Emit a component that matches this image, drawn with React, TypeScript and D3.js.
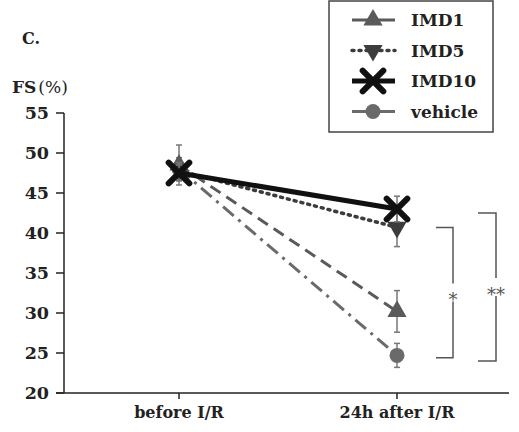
import * as d3 from 'd3';
import { useEffect, useRef } from 'react';

const categories = ['before I/R', '24h after I/R'];
const seriesNames = ['IMD1', 'IMD5', 'IMD10', 'vehicle'];
const imd1 = [48.5, 30.2];
const imd1Err = [2.5, 2.6];
const imd5 = [47.8, 40.7];
const imd5Err = [1.0, 2.4];
const imd10 = [47.5, 43.0];
const imd10Err = [1.0, 1.6];
const vehicle = [48.0, 24.7];
const vehicleErr = [1.4, 1.5];
const yTicks = [20, 25, 30, 35, 40, 45, 50, 55];

const serif = '"DejaVu Serif", serif';

function App() {
  const svgRef = useRef<SVGSVGElement>(null);

  useEffect(() => {
    const svg = d3.select(svgRef.current);
    svg.selectAll('*').remove();

    const width = 519;
    const height = 432;
    const margin = { top: 113, right: 10, bottom: 39, left: 64 };

    const x = d3.scalePoint<string>()
      .domain(categories)
      .range([179, 397]);
    const y = d3.scaleLinear()
      .domain([20, 55])
      .range([height - margin.bottom, margin.top]);

    const styles: Record<string, any> = {
      IMD1: { values: imd1, err: imd1Err, color: '#5a5a5a', width: 3, dash: '12,7', marker: 'up' },
      IMD5: { values: imd5, err: imd5Err, color: '#3c3c3c', width: 3.5, dash: '2,5', marker: 'down' },
      IMD10: { values: imd10, err: imd10Err, color: '#111', width: 5, dash: null, marker: 'x' },
      vehicle: { values: vehicle, err: vehicleErr, color: '#6a6a6a', width: 3, dash: '14,6,3,6', marker: 'circle' },
    };

    const drawMarker = (g: any, kind: string, cx: number, cy: number, color: string) => {
      if (kind === 'up' || kind === 'down') {
        g.append('path')
          .attr('d', d3.symbol().type(d3.symbolTriangle).size(160)())
          .attr('transform', `translate(${cx},${cy}) rotate(${kind === 'down' ? 180 : 0})`)
          .attr('fill', color);
      } else if (kind === 'x') {
        g.append('path')
          .attr('d', d3.symbol().type(d3.symbolTimes).size(280)())
          .attr('transform', `translate(${cx},${cy})`)
          .attr('fill', 'none')
          .attr('stroke', color)
          .attr('stroke-width', 6)
          .attr('stroke-linecap', 'round');
      } else {
        g.append('circle')
          .attr('cx', cx).attr('cy', cy).attr('r', 7.5)
          .attr('fill', color);
      }
    };

    // axes
    const yAxis = svg.append('g').attr('transform', `translate(${margin.left},0)`);
    yAxis.append('line')
      .attr('x1', 0).attr('x2', 0)
      .attr('y1', y(55)).attr('y2', y(20))
      .attr('stroke', '#222').attr('stroke-width', 1.5);
    yTicks.forEach(t => {
      yAxis.append('line')
        .attr('x1', -8).attr('x2', 0)
        .attr('y1', y(t)).attr('y2', y(t))
        .attr('stroke', '#222').attr('stroke-width', 1.5);
      yAxis.append('text')
        .attr('x', -15).attr('y', y(t))
        .attr('dy', '0.36em')
        .attr('text-anchor', 'end')
        .attr('font-family', serif)
        .attr('font-weight', 'bold')
        .attr('font-size', 17.5)
        .attr('fill', '#222')
        .text(t);
    });

    const xAxis = svg.append('g').attr('transform', `translate(0,${y(20)})`);
    xAxis.append('line')
      .attr('x1', margin.left - 8).attr('x2', width - margin.right)
      .attr('stroke', '#222').attr('stroke-width', 1.5);
    categories.forEach(c => {
      xAxis.append('line')
        .attr('x1', x(c)!).attr('x2', x(c)!)
        .attr('y1', 0).attr('y2', 6)
        .attr('stroke', '#222').attr('stroke-width', 1.5);
      xAxis.append('text')
        .attr('x', x(c)!).attr('y', 25)
        .attr('text-anchor', 'middle')
        .attr('font-family', serif)
        .attr('font-weight', 'bold')
        .attr('font-size', 16)
        .attr('fill', '#222')
        .text(c);
    });

    // titles
    svg.append('text')
      .attr('x', 22).attr('y', 44)
      .attr('font-family', serif).attr('font-weight', 'bold').attr('font-size', 16)
      .attr('fill', '#222')
      .text('C.');
    const fs = svg.append('text')
      .attr('x', 12).attr('y', 93)
      .attr('font-family', serif).attr('font-size', 17)
      .attr('fill', '#222');
    fs.append('tspan').attr('font-weight', 'bold').text('FS');
    fs.append('tspan').attr('dx', 2).text('(%)');

    // series
    const line = d3.line<number>()
      .x((_, i) => x(categories[i])!)
      .y(d => y(d));

    const order = ['vehicle', 'IMD1', 'IMD5', 'IMD10'];
    order.forEach(name => {
      const s = styles[name];
      const g = svg.append('g');
      g.append('path')
        .datum(s.values)
        .attr('fill', 'none')
        .attr('stroke', s.color)
        .attr('stroke-width', s.width)
        .attr('stroke-dasharray', s.dash)
        .attr('stroke-linecap', s.dash === '2,5' ? 'round' : 'butt')
        .attr('d', line);
      s.values.forEach((v: number, i: number) => {
        const cx = x(categories[i])!;
        const e = s.err[i];
        g.append('line')
          .attr('x1', cx).attr('x2', cx)
          .attr('y1', y(v + e)).attr('y2', y(v - e))
          .attr('stroke', '#777').attr('stroke-width', 1.5);
        [v + e, v - e].forEach(w => {
          g.append('line')
            .attr('x1', cx - 3).attr('x2', cx + 3)
            .attr('y1', y(w)).attr('y2', y(w))
            .attr('stroke', '#777').attr('stroke-width', 1.5);
        });
        drawMarker(g, s.marker, cx, y(v), s.color);
      });
    });

    // significance brackets
    const brackets = [
      { x0: 436, x1: 453, top: imd5[1], bottom: vehicle[1] - 0.3, label: '*' },
      { x0: 478, x1: 496, top: imd10[1] - 0.5, bottom: vehicle[1] - 0.7, label: '**' },
    ];
    brackets.forEach(b => {
      const yt = y(b.top);
      const yb = y(b.bottom);
      const ym = (yt + yb) / 2;
      const gap = 9;
      svg.append('path')
        .attr('d', `M${b.x0},${yt}H${b.x1}V${ym - gap}M${b.x1},${ym + gap}V${yb}H${b.x0}`)
        .attr('fill', 'none')
        .attr('stroke', '#555')
        .attr('stroke-width', 1.5);
      svg.append('text')
        .attr('x', b.x1).attr('y', ym)
        .attr('dy', '0.75em')
        .attr('text-anchor', 'middle')
        .attr('font-family', serif)
        .attr('font-size', 18)
        .attr('fill', '#555')
        .text(b.label);
    });

    // legend
    const lg = svg.append('g');
    lg.append('rect')
      .attr('x', 329).attr('y', 1)
      .attr('width', 164).attr('height', 131)
      .attr('fill', 'white')
      .attr('stroke', '#444')
      .attr('stroke-width', 1.5);
    seriesNames.forEach((name, i) => {
      const s = styles[name];
      const ly = 20 + i * 30.5;
      lg.append('line')
        .attr('x1', 352).attr('x2', 395)
        .attr('y1', ly).attr('y2', ly)
        .attr('stroke', s.color)
        .attr('stroke-width', s.width)
        .attr('stroke-dasharray', s.dash === '2,5' ? '2,5' : null)
        .attr('stroke-linecap', s.dash === '2,5' ? 'round' : 'butt');
      drawMarker(lg, s.marker, 373, ly, s.color);
      lg.append('text')
        .attr('x', 411).attr('y', ly)
        .attr('dy', '0.36em')
        .attr('font-family', serif)
        .attr('font-weight', 'bold')
        .attr('font-size', 17)
        .attr('fill', '#222')
        .text(name);
    });
  }, []);

  return <svg ref={svgRef} width={519} height={432} style={{ display: 'block', position: 'absolute', left: 0, top: 0 }} />;
}

export default App;
